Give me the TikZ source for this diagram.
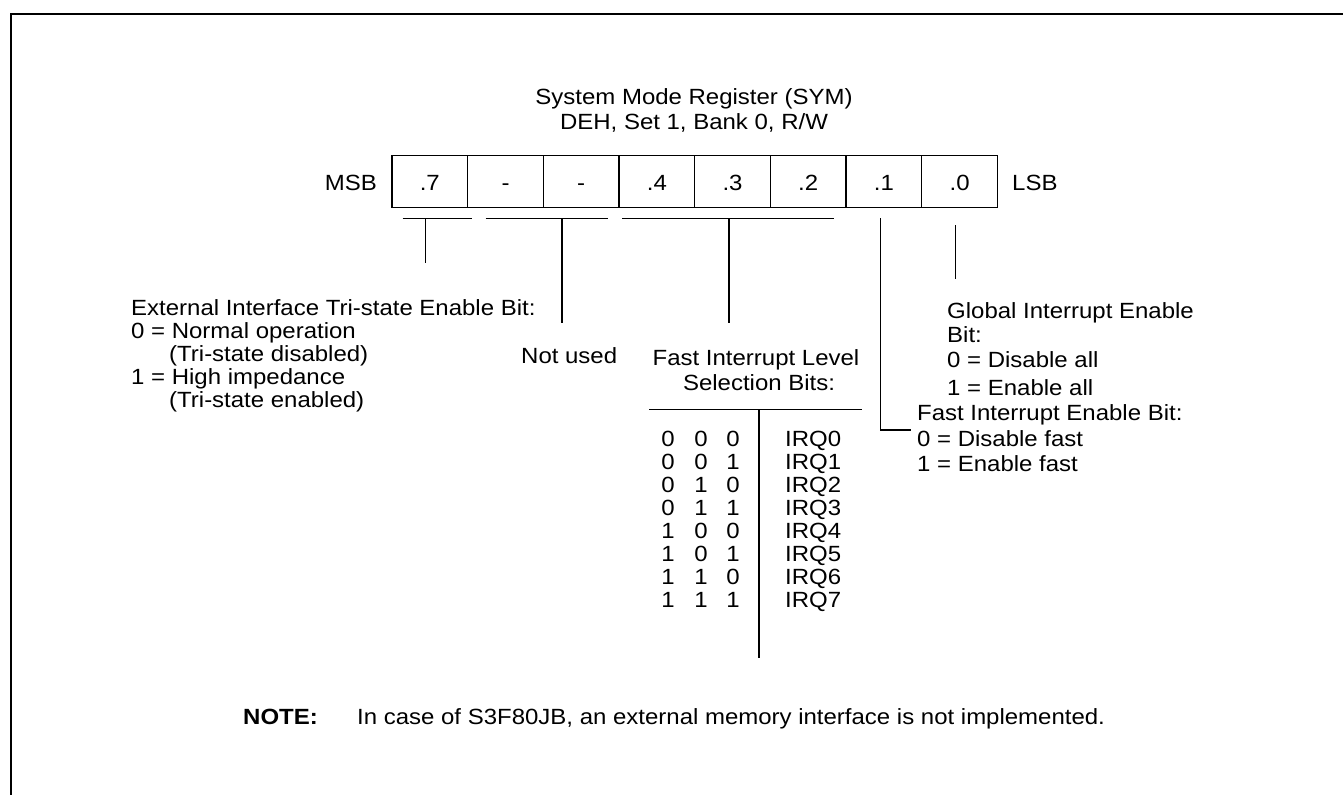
\documentclass[tikz,border=0pt]{standalone}
\usepackage{fontspec}
\setmainfont{Liberation Sans}[FakeStretch=1.09]
\newcommand\regfs{\fontsize{22}{23}\selectfont}
\tikzset{
  txt/.style={inner sep=0pt, anchor=base west, font=\regfs},
  ctxt/.style={inner sep=0pt, anchor=base, font=\regfs},
  ln/.style={line width=1.3pt},
  cell/.style={draw, line width=1.3pt, minimum width=75.7pt, minimum height=52pt,
    inner sep=0pt, text height=16.6pt, text depth=0pt, font=\regfs},
}
\begin{document}
\begin{tikzpicture}[x=1pt,y=-1pt]
\useasboundingbox (0,0) rectangle (1343,795);
% frame
\draw[line width=2pt] (1343,14) -- (11,14) -- (11,795);
% title
\node[ctxt] (title1) at (694,104) {System Mode Register (SYM)};
\node[ctxt] (title2) at (694,129) {DEH, Set 1, Bank 0, R/W};
% register
\node[cell] (c7) at (429.8,181.7) {.7};
\node[cell] (c6) at (505.5,181.7) {-};
\node[cell] (c5) at (581.2,181.7) {-};
\node[cell] (c4) at (656.9,181.7) {.4};
\node[cell] (c3) at (732.5,181.7) {.3};
\node[cell] (c2) at (808.2,181.7) {.2};
\node[cell] (c1) at (883.9,181.7) {.1};
\node[cell] (c0) at (959.6,181.7) {.0};
\node[txt, anchor=base east] (msb) at (377,190) {MSB};
\node[txt] (lsb) at (1012,190) {LSB};
% brackets
\coordinate (b7l) at (402.7,218.3); \coordinate (b7r) at (471.7,218.3);
\coordinate (b7t) at (425.7,218.3); \coordinate (b7e) at (425.7,263.3);
\coordinate (nul) at (485.7,218.3); \coordinate (nur) at (608,218.3);
\coordinate (nut) at (562,218.3); \coordinate (nue) at (562,323);
\coordinate (b4l) at (622.3,218.3); \coordinate (b4r) at (834.3,218.3);
\coordinate (b4t) at (729,218.3); \coordinate (b4e) at (729,323.3);
\coordinate (b1t) at (880.5,218.3); \coordinate (b1c) at (880.5,430); \coordinate (b1e) at (910.5,430);
\coordinate (b0t) at (955.3,225); \coordinate (b0e) at (955.3,279);
\draw[ln] (b7l) -- (b7r); \draw[ln] (b7t) -- (b7e);
\draw[ln] (nul) -- (nur); \draw[ln] (nut) -- (nue);
\draw[ln] (b4l) -- (b4r); \draw[ln] (b4t) -- (b4e);
\draw[ln] (b1t) -- (b1c) -- (b1e);
\draw[ln] (b0t) -- (b0e);
% external interface text
\node[txt] (ext1) at (131,315) {External Interface Tri-state Enable Bit:};
\node[txt] (ext2) at (131,338) {0 = Normal operation};
\node[txt] (ext3) at (169,361) {(Tri-state disabled)};
\node[txt] (ext4) at (131,384) {1 = High impedance};
\node[txt] (ext5) at (169,407) {(Tri-state enabled)};
% not used
\node[txt] (nu) at (521,363) {Not used};
% fast interrupt level
\node[ctxt] (fil1) at (756,365) {Fast Interrupt Level};
\node[ctxt] (fil2) at (759,390) {Selection Bits:};
\coordinate (th1) at (649.3,409.3); \coordinate (th2) at (861.7,409.3);
\coordinate (tv1) at (759,409.3); \coordinate (tv2) at (759,658.3);
\draw[ln] (th1) -- (th2);
\draw[ln] (tv1) -- (tv2);
\foreach \a/\b/\c [count=\i from 0] in {0/0/0,0/0/1,0/1/0,0/1/1,1/0/0,1/0/1,1/1/0,1/1/1}{
  \pgfmathsetmacro\yy{446+23.1*\i}
  \node[ctxt] (ra\i) at (668,\yy) {\a};
  \node[ctxt] (rb\i) at (701,\yy) {\b};
  \node[ctxt] (rc\i) at (733,\yy) {\c};
  \node[txt] (irq\i) at (785,\yy) {IRQ\i};
}
% global interrupt enable
\node[txt] (gie1) at (947,318) {Global Interrupt Enable};
\node[txt] (gie2) at (947,342) {Bit:};
\node[txt] (gie3) at (947,367) {0 = Disable all};
\node[txt] (gie4) at (947,395) {1 = Enable all};
% fast interrupt enable
\node[txt] (fie1) at (917,420) {Fast Interrupt Enable Bit:};
\node[txt] (fie2) at (917,446) {0 = Disable fast};
\node[txt] (fie3) at (917,471) {1 = Enable fast};
% note
\node[txt, font=\regfs\bfseries] (note) at (243,724) {NOTE:};
\node[txt] (notetxt) at (357,724) {In case of S3F80JB, an external memory interface is not implemented.};
\end{tikzpicture}
\end{document}
